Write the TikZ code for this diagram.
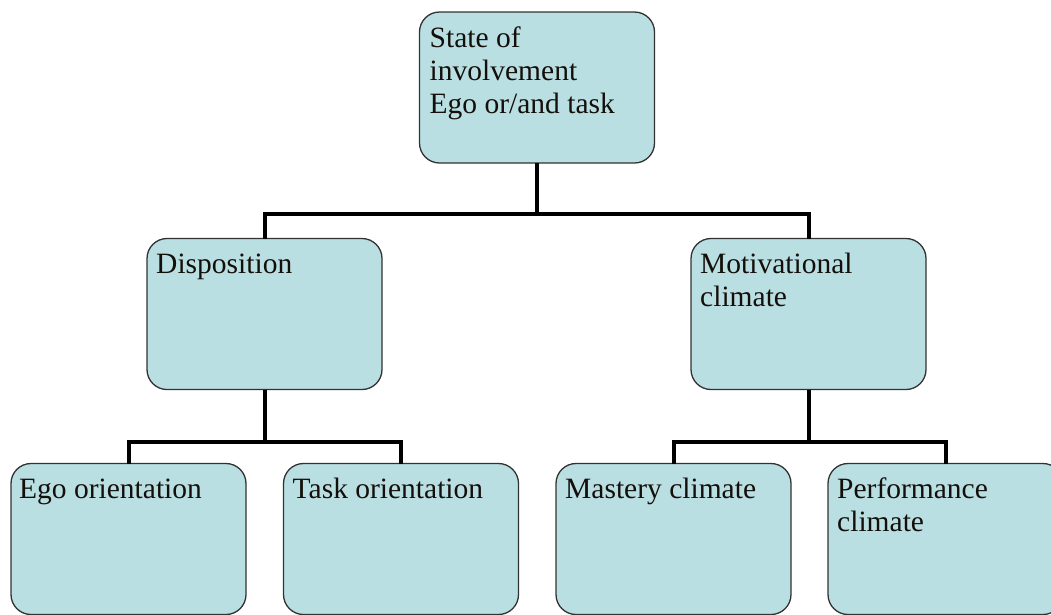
\documentclass[tikz,border=0pt]{standalone}
\usepackage{fontspec}
\setmainfont{Liberation Serif}
\definecolor{boxfill}{RGB}{185,223,227}
\definecolor{boxline}{RGB}{50,50,50}
\definecolor{txt}{RGB}{20,15,10}
\begin{document}
\begin{tikzpicture}[x=1pt,y=-1pt,
  box/.style={draw=boxline,line width=1.3pt,fill=boxfill,rounded corners=20pt,
    minimum width=235pt,minimum height=151pt,inner sep=0pt,outer sep=0pt},
  lbl/.style={anchor=base west,inner sep=0pt,text=txt,
    font=\fontsize{29.5}{33}\selectfont},
  conn/.style={line width=4pt,black,line join=miter}]
\useasboundingbox (0,0) rectangle (1051,614);
\node[box] (top)  at (537,87.5) {};
\node[box] (disp) at (264.5,314) {};
\node[box] (mot)  at (808.5,314) {};
\node[box] (ego)  at (128.5,539) {};
\node[box] (task) at (401,539) {};
\node[box] (mast) at (673.5,539) {};
\node[box] (perf) at (945.5,539) {};
\node[lbl] (ttop) at ([shift={(10,35)}]top.north west) {\vtop{\baselineskip=33pt\hbox{State of}\hbox{involvement}\hbox{Ego or/and task}}};
\node[lbl] (tdisp) at ([shift={(9,35)}]disp.north west) {Disposition};
\node[lbl] (tmot) at ([shift={(9,35)}]mot.north west) {\vtop{\baselineskip=33pt\hbox{Motivational}\hbox{climate}}};
\node[lbl] (tego) at ([shift={(8,35)}]ego.north west) {Ego orientation};
\node[lbl] (ttask) at ([shift={(9,35)}]task.north west) {Task orientation};
\node[lbl] (tmast) at ([shift={(9,35)}]mast.north west) {Mastery climate};
\node[lbl] (tperf) at ([shift={(9,35)}]perf.north west) {\vtop{\baselineskip=33pt\hbox{Performance}\hbox{climate}}};
\coordinate (j1) at (537,214);
\coordinate (j2) at (264.5,442);
\coordinate (j3) at (808.5,442);
\draw[conn] (top.south) -- (j1);
\draw[conn] (disp.north) |- (j1) -| (mot.north);
\draw[conn] (disp.south) -- (j2);
\draw[conn] (ego.north) |- (j2) -| (task.north);
\draw[conn] (mot.south) -- (j3);
\draw[conn] (mast.north) |- (j3) -| (perf.north);
\end{tikzpicture}
\end{document}
